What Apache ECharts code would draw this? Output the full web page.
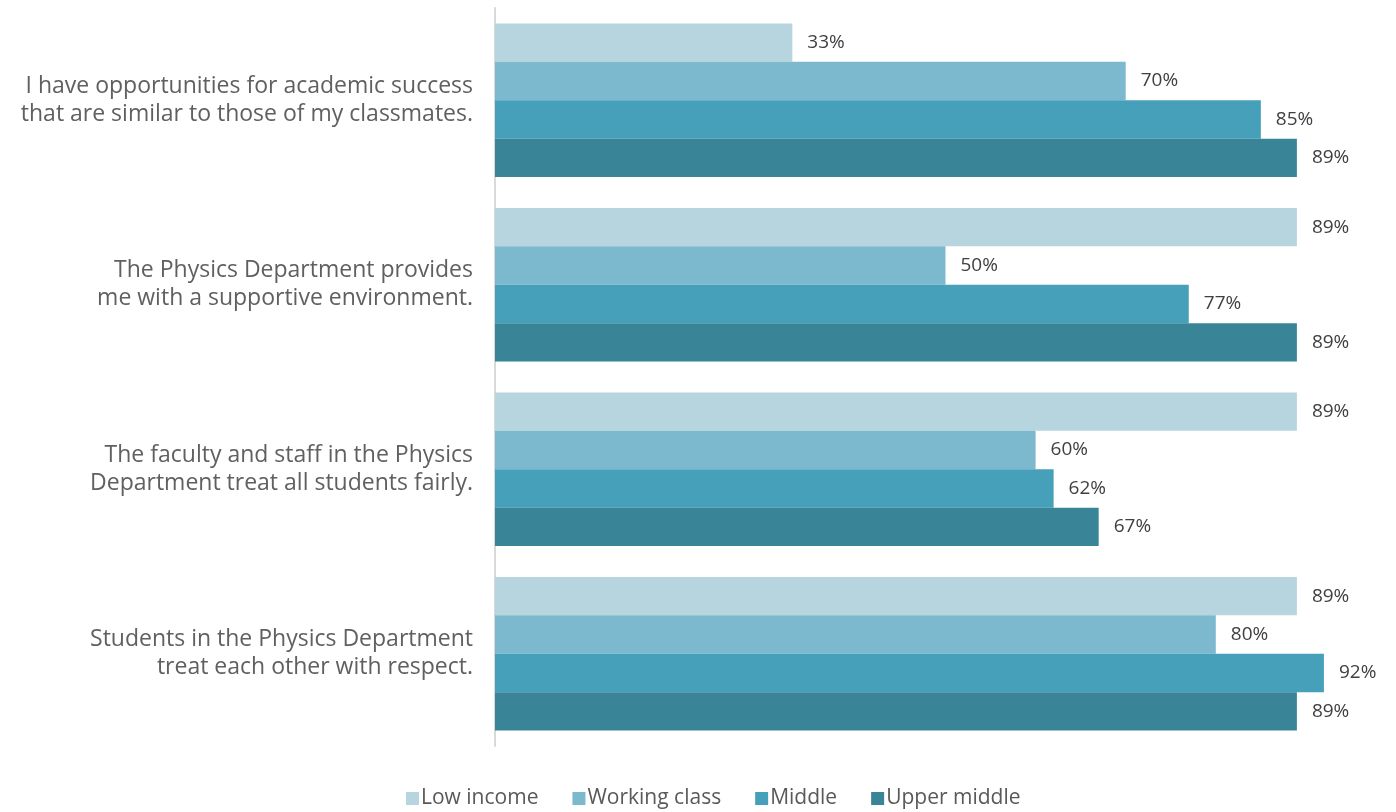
<!DOCTYPE html>
<html>
<head>
<meta charset="utf-8">
<script src="https://cdn.jsdelivr.net/npm/echarts@6/dist/echarts.min.js"></script>
<style>
  html, body { margin: 0; padding: 0; background: #ffffff; }
  #chart { width: 1396px; height: 812px; }
</style>
</head>
<body>
<div id="chart"></div>
<script>
// Survey statements (y-axis categories)
const statements = [
  'I have opportunities for academic success\nthat are similar to those of my classmates.',
  'The Physics Department provides\nme with a supportive environment.',
  'The faculty and staff in the Physics\nDepartment treat all students fairly.',
  'Students in the Physics Department\ntreat each other with respect.'
];

// Share of students agreeing, by socioeconomic group (%)
const lowIncome    = [33, 89, 89, 89];
const workingClass = [70, 50, 60, 80];
const middle       = [85, 77, 62, 92];
const upperMiddle  = [89, 89, 67, 89];

const groupNames  = ['Low income', 'Working class', 'Middle', 'Upper middle'];
const groupColors = ['#b7d5df', '#7db9ce', '#47a0b9', '#398497'];
const groupValues = [lowIncome, workingClass, middle, upperMiddle];

const FONT = '"Open Sans", Lato, sans-serif';

const chart = echarts.init(document.getElementById('chart'));

chart.setOption({
  animation: false,
  textStyle: { fontFamily: FONT },
  grid: { left: 495, top: 8, width: 903, height: 738, containLabel: false },
  legend: {
    bottom: -2,
    left: 401,
    itemWidth: 13,
    itemHeight: 13,
    itemGap: 34,
    icon: 'rect',
    textStyle: { fontSize: 21, color: '#595959', fontFamily: FONT, padding: [0, 0, 0, -3] },
    data: groupNames
  },
  xAxis: {
    type: 'value',
    min: 0,
    max: 100,
    show: false
  },
  yAxis: {
    type: 'category',
    inverse: true,
    data: statements,
    axisLine: { show: true, lineStyle: { color: '#d9d9d9', width: 2 } },
    axisTick: { show: false },
    axisLabel: {
      margin: 22,
      fontSize: 23,
      lineHeight: 28,
      color: '#606060',
      fontFamily: FONT,
      align: 'right'
    }
  },
  series: groupValues.map((vals, i) => ({
    name: groupNames[i],
    type: 'bar',
    data: vals,
    barGap: '0%',
    barCategoryGap: '16.8%',
    itemStyle: { color: groupColors[i] },
    label: {
      show: true,
      position: 'right',
      distance: 15,
      formatter: '{c}%',
      fontSize: 19,
      color: '#404040',
      fontFamily: FONT
    }
  }))
});
</script>
</body>
</html>
